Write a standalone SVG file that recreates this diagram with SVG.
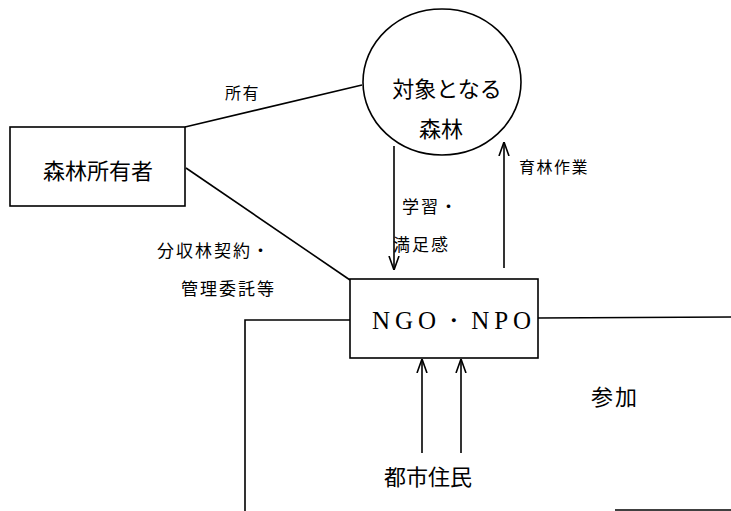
<svg xmlns="http://www.w3.org/2000/svg" width="731" height="511" viewBox="0 0 731 511">
<style>
.ln{fill:none;stroke:#000;stroke-width:1.6}
.box{fill:#fff;stroke:#000;stroke-width:1.6}
.t{font-family:"Noto Sans CJK JP","Noto Sans",sans-serif;fill:#000}
.big{font-size:22px}
.md{font-size:17px;letter-spacing:2px}
.sm{font-size:16px;letter-spacing:1.5px}
</style>
<defs>
<marker id="ah" viewBox="0 0 14 20" refX="14" refY="10" markerWidth="14" markerHeight="20" markerUnits="userSpaceOnUse" orient="auto">
<path d="M0,5 L14,10 L0,15" fill="none" stroke="#000" stroke-width="1.6"/>
</marker>
</defs>
<rect width="731" height="511" fill="#fff"/>
<g id="connectors">
<line class="ln" x1="185" y1="127" x2="362" y2="85"/>
<line class="ln" x1="186" y1="168" x2="350" y2="280"/>
<line class="ln" x1="394" y1="146" x2="394" y2="270" marker-end="url(#ah)"/>
<line class="ln" x1="504" y1="268" x2="504" y2="142" marker-end="url(#ah)"/>
<polyline class="ln" points="350,320 245,320 245,511"/>
<line class="ln" x1="538" y1="318" x2="731" y2="317"/>
<line class="ln" x1="615" y1="510" x2="731" y2="510"/>
<line class="ln" x1="422" y1="453" x2="422" y2="359" marker-end="url(#ah)"/>
<line class="ln" x1="461" y1="453" x2="461" y2="359" marker-end="url(#ah)"/>
<text class="t sm" x="225" y="99">所有</text>
<text class="t md" x="157" y="257">分収林契約・</text>
<text class="t md" x="181" y="295">管理委託等</text>
<text class="t md" x="402" y="213">学習・</text>
<text class="t md" x="393" y="251">満足感</text>
<text class="t sm" x="519" y="173">育林作業</text>
<text class="t big" x="591" y="405" font-size="20" letter-spacing="2">参加</text>
</g>
<g id="forest">
<ellipse class="box" cx="442" cy="82" rx="79" ry="73"/>
<text class="t big" x="447" y="97" text-anchor="middle">対象となる</text>
<text class="t big" x="441" y="137" text-anchor="middle">森林</text>
</g>
<g id="owner">
<rect class="box" x="10" y="127" width="175" height="79"/>
<text class="t big" x="98" y="179" text-anchor="middle">森林所有者</text>
</g>
<g id="ngo">
<rect class="box" x="350" y="279" width="188" height="79"/>
<text x="372" y="329" font-family="'Liberation Serif',serif" font-size="25" letter-spacing="5">NGO・NPO</text>
</g>
<g id="citizens">
<text class="t big" x="428" y="485" text-anchor="middle">都市住民</text>
</g>
</svg>
